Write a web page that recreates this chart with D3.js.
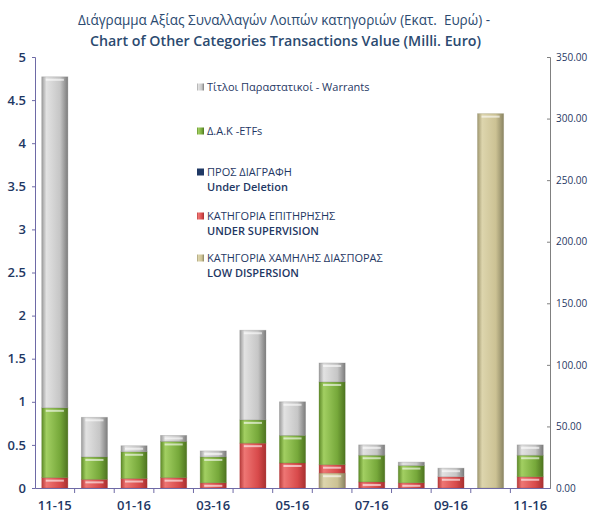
<!DOCTYPE html>
<html>
<head>
<meta charset="utf-8">
<style>
  body { margin: 0; background: #fff; }
  svg text { font-family: "Open Sans", "DejaVu Sans", sans-serif; fill: #1f3864; }
  .tick text { font-size: 13px; font-weight: 600; }
  .legend text { font-size: 11px; }
</style>
</head>
<body>
<svg width="590" height="514"></svg>
<script src="https://d3js.org/d3.v7.min.js"></script>
<script>
// months on the x axis
var months = ["11-15","12-15","01-16","02-16","03-16","04-16","05-16","06-16","07-16","08-16","09-16","10-16","11-16"];
// primary axis series (Milli. Euro)
var supervision = [0.12, 0.10, 0.11, 0.12, 0.06, 0.52, 0.29, 0.27, 0.07, 0.06, 0.13, 0, 0.13];
var deletion    = [0, 0, 0, 0, 0, 0, 0, 0, 0, 0, 0, 0, 0];
var etfs        = [0.81, 0.26, 0.31, 0.42, 0.30, 0.27, 0.32, 0.96, 0.31, 0.20, 0, 0, 0.25];
var warrants    = [3.84, 0.46, 0.07, 0.07, 0.07, 1.04, 0.39, 0.22, 0.12, 0.04, 0.10, 0, 0.12];
// secondary axis series
var lowDispersion = [0, 0, 0, 0, 0, 0, 0, 12, 0, 0, 0, 304, 0];

var leftTicks = [0, 0.5, 1, 1.5, 2, 2.5, 3, 3.5, 4, 4.5, 5];
var rightTicks = [0, 50, 100, 150, 200, 250, 300, 350];
var shownMonths = ["11-15","01-16","03-16","05-16","07-16","09-16","11-16"];

var svg = d3.select("svg");
var plotLeft = 35, plotRight = 550, plotTop = 57, plotBottom = 488;

var x = d3.scaleBand().domain(months).range([plotLeft, plotRight]);
var yL = d3.scaleLinear().domain([0, 5]).range([plotBottom, plotTop]);
var yR = d3.scaleLinear().domain([0, 350]).range([plotBottom, plotTop]);
var barW = x.bandwidth() * 0.66;

// gradients for the glossy bars
var colors = {
  sup: ["#b83b3b", "#ee7674", "#d84a4b", "#a83030"],
  del: ["#152848", "#3a5a8c", "#1f3864", "#12223e"],
  etf: ["#5e8a28", "#a2cf62", "#76a83a", "#4e7420"],
  war: ["#9c9c9c", "#e2e2e2", "#c6c6c6", "#7c7c7c"],
  low: ["#a09870", "#ddd5ad", "#ccc294", "#8a8462"]
};
var defs = svg.append("defs");
Object.keys(colors).forEach(function(k) {
  var c = colors[k];
  var gr = defs.append("linearGradient").attr("id", "g-" + k);
  gr.append("stop").attr("offset", "0%").attr("stop-color", c[0]);
  gr.append("stop").attr("offset", "18%").attr("stop-color", c[1]);
  gr.append("stop").attr("offset", "70%").attr("stop-color", c[2]);
  gr.append("stop").attr("offset", "100%").attr("stop-color", c[3]);
});

// title
svg.append("text").attr("x", 78).attr("y", 25)
  .attr("textLength", 412).attr("lengthAdjust", "spacingAndGlyphs")
  .style("white-space", "pre")
  .style("font-size", "15px").style("font-weight", 500).style("fill", "#2b4a70")
  .text("Διάγραμμα Αξίας Συναλλαγών Λοιπών κατηγοριών (Εκατ.  Ευρώ) -");
svg.append("text").attr("x", 90).attr("y", 46)
  .attr("textLength", 391).attr("lengthAdjust", "spacingAndGlyphs")
  .style("font-size", "15px").style("font-weight", 600).style("fill", "#2b4a70")
  .text("Chart of Other Categories Transactions Value (Milli. Euro)");

// primary stacked bars
var series = [
  {key: "sup", values: supervision},
  {key: "del", values: deletion},
  {key: "etf", values: etfs},
  {key: "war", values: warrants}
];
var stackData = months.map(function(m, i) {
  var row = {month: m};
  series.forEach(function(s) { row[s.key] = s.values[i]; });
  return row;
});
var stacked = d3.stack().keys(series.map(function(s) { return s.key; }))(stackData);

function drawSegments(sel, scale, key) {
  sel.append("rect")
    .attr("x", function(d) { return x(d.data.month) + (x.bandwidth() - barW) / 2; })
    .attr("y", function(d) { return scale(d[1]); })
    .attr("width", barW)
    .attr("height", function(d) { return Math.max(0, scale(d[0]) - scale(d[1])); })
    .attr("fill", "url(#g-" + key + ")")
    .attr("stroke", colors[key][3]).attr("stroke-opacity", 0.35).attr("stroke-width", 0.8);
  sel.filter(function(d) { return scale(d[0]) - scale(d[1]) > 5; })
    .append("rect")
    .attr("x", function(d) { return x(d.data.month) + (x.bandwidth() - barW) / 2 + 4; })
    .attr("y", function(d) { return scale(d[1]) + 2; })
    .attr("width", barW - 8)
    .attr("height", 2)
    .attr("fill", "#fff").attr("opacity", 0.6);
}

stacked.forEach(function(layer) {
  var g = svg.append("g").selectAll("g")
    .data(layer.filter(function(d) { return d[1] > d[0]; }))
    .enter().append("g");
  drawSegments(g, yL, layer.key);
});

// secondary axis bars (drawn over the primary ones)
var lowData = months.map(function(m, i) {
  var d = [0, lowDispersion[i]]; d.data = {month: m}; return d;
}).filter(function(d) { return d[1] > 0; });
drawSegments(svg.append("g").selectAll("g").data(lowData).enter().append("g"), yR, "low");

// left axis
var axL = svg.append("g").attr("transform", "translate(" + plotLeft + ",0)")
  .call(d3.axisLeft(yL).tickValues(leftTicks).tickSize(3).tickPadding(6).tickFormat(function(d) { return d; }));
axL.selectAll("path, line").attr("stroke", "#6e6aa6");

// right axis
var axR = svg.append("g").attr("transform", "translate(" + plotRight + ",0)")
  .call(d3.axisRight(yR).tickValues(rightTicks).tickSize(-3).tickPadding(6).tickFormat(d3.format(".2f")));
axR.selectAll("path, line").attr("stroke", "#808080");
axR.selectAll("text").style("font-size", "10px").style("font-weight", 400);

// x axis
var axX = svg.append("g").attr("transform", "translate(0," + plotBottom + ")")
  .call(d3.axisBottom(x).tickSize(0).tickPadding(13)
    .tickFormat(function(d) { return shownMonths.indexOf(d) >= 0 ? d : ""; }));
axX.select("path").attr("stroke", "#6e6aa6");
axX.selectAll("text").style("font-size", "13px").style("font-weight", 600);
axX.append("g").selectAll("line")
  .data(months.slice(1))
  .enter().append("line")
  .attr("x1", function(d) { return x(d); }).attr("x2", function(d) { return x(d); })
  .attr("y1", 0).attr("y2", 5)
  .attr("stroke", "#6e6aa6");

// legend
var legendItems = [
  {key: "war", lines: ["Τίτλοι Παραστατικοί - Warrants"], y: 87},
  {key: "etf", lines: ["Δ.Α.Κ -ETFs"], y: 131},
  {key: "del", lines: ["ΠΡΟΣ ΔΙΑΓΡΑΦΗ", "Under Deletion"], y: 172},
  {key: "sup", lines: ["ΚΑΤΗΓΟΡΙΑ ΕΠΙΤΗΡΗΣΗΣ", "UNDER SUPERVISION"], y: 216},
  {key: "low", lines: ["ΚΑΤΗΓΟΡΙΑ ΧΑΜΗΛΗΣ ΔΙΑΣΠΟΡΑΣ", "LOW DISPERSION"], y: 258}
];
var leg = svg.append("g").attr("class", "legend").selectAll("g")
  .data(legendItems).enter().append("g")
  .attr("transform", function(d) { return "translate(197," + d.y + ")"; });
leg.append("rect").attr("x", 0).attr("y", -3.5).attr("width", 7).attr("height", 7)
  .attr("fill", function(d) { return d.key === "del" ? colors.del[2] : "url(#g-" + d.key + ")"; });
leg.each(function(d) {
  var t = d3.select(this);
  d.lines.forEach(function(line, i) {
    t.append("text").attr("x", 10).attr("y", i * 15).attr("dy", "0.35em")
      .style("font-weight", i === 1 ? 600 : 400)
      .text(line);
  });
});
</script>
</body>
</html>
